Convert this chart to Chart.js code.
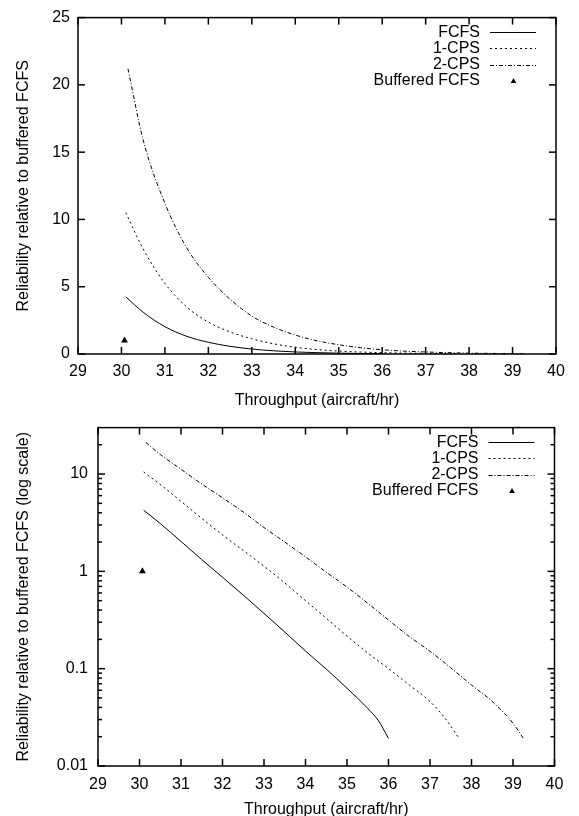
<!DOCTYPE html>
<html>
<head>
<meta charset="utf-8">
<script src="https://cdn.jsdelivr.net/npm/chart.js@4.4.1/dist/chart.umd.min.js"></script>
<style>
  html, body { margin: 0; padding: 0; background: #fff; }
  canvas { display: block; }
</style>
</head>
<body>
<canvas id="linearChart" width="579" height="408"></canvas>
<canvas id="logChart" width="579" height="408"></canvas>
<script>
// values (throughput in aircraft/hr, reliability relative to buffered FCFS)
const fcfsX = [30.1, 30.5, 31, 31.5, 32, 32.5, 33, 33.5, 34, 34.5, 35, 35.5, 35.75, 36.0];
const fcfsY = [4.25, 3.1, 2.03, 1.32, 0.87, 0.57, 0.37, 0.238, 0.152, 0.099, 0.063, 0.039, 0.0295, 0.0192];

const cps1X = [30.1, 30.5, 31, 31.5, 32, 32.5, 33, 33.5, 34, 34.5, 35, 35.5, 36, 36.5, 37, 37.4, 37.7];
const cps1Y = [10.5, 7.8, 5.25, 3.5, 2.37, 1.64, 1.13, 0.76, 0.50, 0.33, 0.216, 0.145, 0.10, 0.068, 0.046, 0.0295, 0.0192];

const cps2X = [30.15, 30.5, 31, 31.5, 32, 32.5, 33, 33.5, 34, 34.5, 35, 35.5, 36, 36.5, 37, 37.5, 38, 38.5, 39, 39.25];
const cps2Y = [21.2, 15.9, 11.2, 7.9, 5.7, 4.07, 2.82, 2.0, 1.41, 0.98, 0.69, 0.47, 0.316, 0.214, 0.151, 0.102, 0.068, 0.046, 0.0275, 0.0192];

const bufferedX = [30.07];
const bufferedY = [1];

const xTicks = [29, 30, 31, 32, 33, 34, 35, 36, 37, 38, 39, 40];
const linearTicks = [0, 5, 10, 15, 20, 25];
const logTicks = [0.01, 0.1, 1, 10];

const FAMILY = "'Liberation Sans', Arial, sans-serif";
const FONT = { family: FAMILY, size: 16 };
const TITLE_FONT = { family: FAMILY, size: 16, lineHeight: 1 };

const toPoints = (xs, ys) => xs.map((x, i) => ({ x: x, y: ys[i] }));

function buildDatasets() {
    const line = { showLine: true, pointRadius: 0, borderColor: '#000', borderWidth: 1, cubicInterpolationMode: 'monotone' };
    return [
        Object.assign({ label: 'FCFS', data: toPoints(fcfsX, fcfsY), borderDash: [] }, line),
        Object.assign({ label: '1-CPS', data: toPoints(cps1X, cps1Y), borderDash: [2, 3] }, line),
        Object.assign({ label: '2-CPS', data: toPoints(cps2X, cps2Y), borderDash: [4, 2, 1, 2] }, line),
        {
            label: 'Buffered FCFS', data: toPoints(bufferedX, bufferedY), showLine: false,
            pointStyle: 'triangle', pointRadius: 4, backgroundColor: '#000', borderColor: '#000', borderWidth: 0,
        },
    ];
}

// gnuplot-like frame with inward ticks on all four sides
const frameTicks = {
    id: 'frameTicks',
    afterDraw(chart) {
        const { ctx, chartArea: a, scales } = chart;
        const xs = scales.x, ys = scales.y;
        ctx.save();
        ctx.setLineDash([]);
        ctx.strokeStyle = '#000';
        ctx.lineWidth = 1.5;
        const seg = (x1, y1, x2, y2) => {
            ctx.beginPath();
            ctx.moveTo(x1, y1);
            ctx.lineTo(x2, y2);
            ctx.stroke();
        };
        xTicks.forEach(v => {
            const px = xs.getPixelForValue(v);
            seg(px, a.bottom, px, a.bottom - 7);
            seg(px, a.top, px, a.top + 7);
        });
        const yTick = (v, len) => {
            const py = ys.getPixelForValue(v);
            seg(a.left, py, a.left + len, py);
            seg(a.right, py, a.right - len, py);
        };
        if (ys.type === 'logarithmic') {
            logTicks.forEach(d => {
                yTick(d, 7);
                for (let k = 2; k <= 9; k++) {
                    if (k * d < ys.max) yTick(k * d, 4);
                }
            });
        } else {
            linearTicks.forEach(v => yTick(v, 7));
        }
        ctx.lineWidth = 1.5;
        ctx.strokeRect(a.left, a.top, a.right - a.left, a.bottom - a.top);
        ctx.restore();
    },
};

// key in the top right corner: text right-aligned, sample to its right
const gnuLegend = {
    id: 'gnuLegend',
    afterDraw(chart) {
        const { ctx, chartArea: a } = chart;
        ctx.save();
        ctx.font = `${FONT.size}px ${FAMILY}`;
        ctx.fillStyle = '#000';
        ctx.strokeStyle = '#000';
        ctx.textAlign = 'right';
        ctx.textBaseline = 'middle';
        chart.data.datasets.forEach((ds, i) => {
            const y = a.top + 14.5 + i * 16.3;
            ctx.fillText(ds.label, a.right - 76, y);
            if (ds.showLine) {
                ctx.lineWidth = 1;
                ctx.setLineDash(ds.borderDash);
                ctx.beginPath();
                ctx.moveTo(a.right - 66, Math.round(y) + 0.5);
                ctx.lineTo(a.right - 20, Math.round(y) + 0.5);
                ctx.stroke();
            } else {
                ctx.setLineDash([]);
                ctx.beginPath();
                const cx = a.right - 42.5;
                ctx.moveTo(cx, y - 3);
                ctx.lineTo(cx + 2.8, y + 2);
                ctx.lineTo(cx - 2.8, y + 2);
                ctx.closePath();
                ctx.fill();
            }
        });
        ctx.restore();
    },
};

function makeChart(id, yScale, box) {
    return new Chart(id, {
        type: 'scatter',
        data: { datasets: buildDatasets() },
        options: {
            responsive: false,
            animation: false,
            layout: { padding: { left: 0, top: box.top, right: box.right, bottom: 0 } },
            plugins: { legend: { display: false }, tooltip: { enabled: false } },
            scales: {
                x: {
                    type: 'linear', min: 29, max: 40,
                    afterBuildTicks: s => { s.ticks = xTicks.map(v => ({ value: v })); },
                    ticks: { color: '#000', font: FONT, padding: box.xPad, autoSkip: false, maxRotation: 0 },
                    grid: { display: false, drawTicks: false }, border: { display: false },
                    title: { display: true, text: 'Throughput (aircraft/hr)', color: '#000', font: TITLE_FONT, padding: { top: 0, bottom: box.xTitlePad } },
                    afterFit: s => { s.height = box.xHeight; },
                },
                y: Object.assign({
                    ticks: { color: '#000', font: FONT, padding: box.yPad, autoSkip: false, callback: v => String(v) },
                    grid: { display: false, drawTicks: false }, border: { display: false },
                    title: { display: true, text: box.yTitle, color: '#000', font: TITLE_FONT, padding: { top: 16, bottom: 0 } },
                    afterFit: s => { s.width = box.yWidth; },
                }, yScale),
            },
        },
        plugins: [frameTicks, gnuLegend],
    });
}

makeChart('linearChart', {
    type: 'linear', min: 0, max: 25,
    afterBuildTicks: s => { s.ticks = linearTicks.map(v => ({ value: v })); },
}, { top: 11, right: 23, yWidth: 78, xHeight: 54, xPad: 8, yPad: 8, xTitlePad: -1, yTitle: 'Reliability relative to buffered FCFS' });

makeChart('logChart', {
    type: 'logarithmic', min: 0.01, max: 30,
    afterBuildTicks: s => { s.ticks = logTicks.map(v => ({ value: v })); },
}, { top: 14, right: 24.5, yWidth: 98, xHeight: 50, xPad: 9, yPad: 10, xTitlePad: -2, yTitle: 'Reliability relative to buffered FCFS (log scale)' });
</script>
</body>
</html>
